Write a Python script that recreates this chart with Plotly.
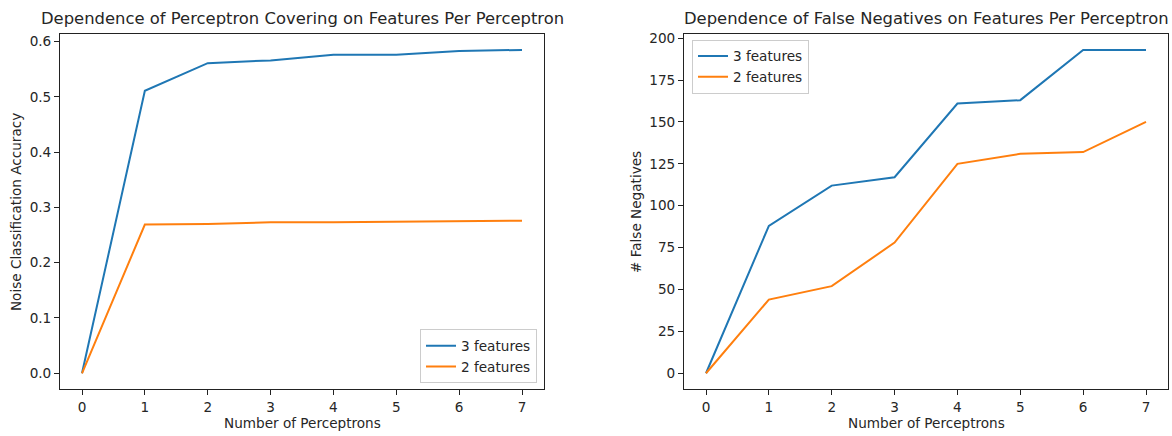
import plotly.graph_objects as go

# Number of perceptrons on the x axis
perceptrons = [0, 1, 2, 3, 4, 5, 6, 7]

# Noise classification accuracy per feature count
acc_3_features = [0.0, 0.511, 0.561, 0.566, 0.576, 0.576, 0.583, 0.585]
acc_2_features = [0.0, 0.269, 0.270, 0.273, 0.273, 0.274, 0.274, 0.276]

# False negatives per feature count
fn_3_features = [0, 88, 112, 117, 161, 163, 193, 193]
fn_2_features = [0, 44, 52, 78, 125, 131, 132, 150]

BLUE = "#1f77b4"
ORANGE = "#ff7f0e"
FONT = "DejaVu Sans"
INK = "#262626"
BASE = 13.6
W, H = 1172, 436

fig = go.Figure()

fig.add_trace(go.Scatter(x=perceptrons, y=acc_3_features, mode="lines", name="3 features",
                         line=dict(color=BLUE, width=2), xaxis="x", yaxis="y", legend="legend"))
fig.add_trace(go.Scatter(x=perceptrons, y=acc_2_features, mode="lines", name="2 features",
                         line=dict(color=ORANGE, width=2), xaxis="x", yaxis="y", legend="legend"))
fig.add_trace(go.Scatter(x=perceptrons, y=fn_3_features, mode="lines", name="3 features",
                         line=dict(color=BLUE, width=2), xaxis="x2", yaxis="y2", legend="legend2"))
fig.add_trace(go.Scatter(x=perceptrons, y=fn_2_features, mode="lines", name="2 features",
                         line=dict(color=ORANGE, width=2), xaxis="x2", yaxis="y2", legend="legend2"))

def pad(lo, hi):
    m = (hi - lo) * 0.05
    return [lo - m, hi + m]

axis_common = dict(showline=True, mirror=True, linecolor="#222", linewidth=1,
                   showgrid=False, zeroline=False, ticks="outside", ticklen=5,
                   tickcolor="#222", tickfont=dict(family=FONT, size=BASE, color=INK))

y_dom = [1 - 389 / H, 1 - 30 / H]
left_dom = [60 / W, 544 / W]
right_dom = [684 / W, 1168 / W]

legend_style = dict(bgcolor="rgba(255,255,255,0.8)", bordercolor="#cccccc", borderwidth=1,
                    font=dict(family=FONT, size=BASE, color=INK), itemwidth=30, tracegroupgap=0)

fig.update_layout(
    width=W, height=H,
    margin=dict(l=0, r=0, t=0, b=0),
    paper_bgcolor="white", plot_bgcolor="white",
    font=dict(family=FONT, size=BASE, color=INK),
    xaxis=dict(domain=left_dom, anchor="y", range=pad(0, 7), tickvals=perceptrons, **axis_common),
    yaxis=dict(domain=y_dom, anchor="x", range=pad(0, max(acc_3_features)),
               tickvals=[0, 0.1, 0.2, 0.3, 0.4, 0.5, 0.6], tickformat=".1f", **axis_common),
    xaxis2=dict(domain=right_dom, anchor="y2", range=pad(0, 7), tickvals=perceptrons, **axis_common),
    yaxis2=dict(domain=y_dom, anchor="x2", range=pad(0, max(fn_3_features)),
                tickvals=[0, 25, 50, 75, 100, 125, 150, 175, 200], **axis_common),
    legend=dict(x=537 / W, y=1 - 383 / H, xanchor="right", yanchor="bottom", **legend_style),
    legend2=dict(x=692 / W, y=1 - 36 / H, xanchor="left", yanchor="top", **legend_style),
    showlegend=True,
)

def text(x, y, s, size=BASE, angle=0):
    fig.add_annotation(x=x / W, y=1 - y / H, xref="paper", yref="paper", text=s, showarrow=False,
                       font=dict(family=FONT, size=size, color=INK), textangle=angle,
                       xanchor="center", yanchor="middle")

text(302, 15, "Dependence of Perceptron Covering on Features Per Perceptron", size=16.4)
text(926, 15, "Dependence of False Negatives on Features Per Perceptron", size=16.4)
text(302, 423, "Number of Perceptrons")
text(926, 423, "Number of Perceptrons")
text(16, 210, "Noise Classification Accuracy", angle=-90)
text(636, 210, "# False Negatives", angle=-90)

fig.write_html("out.html")
